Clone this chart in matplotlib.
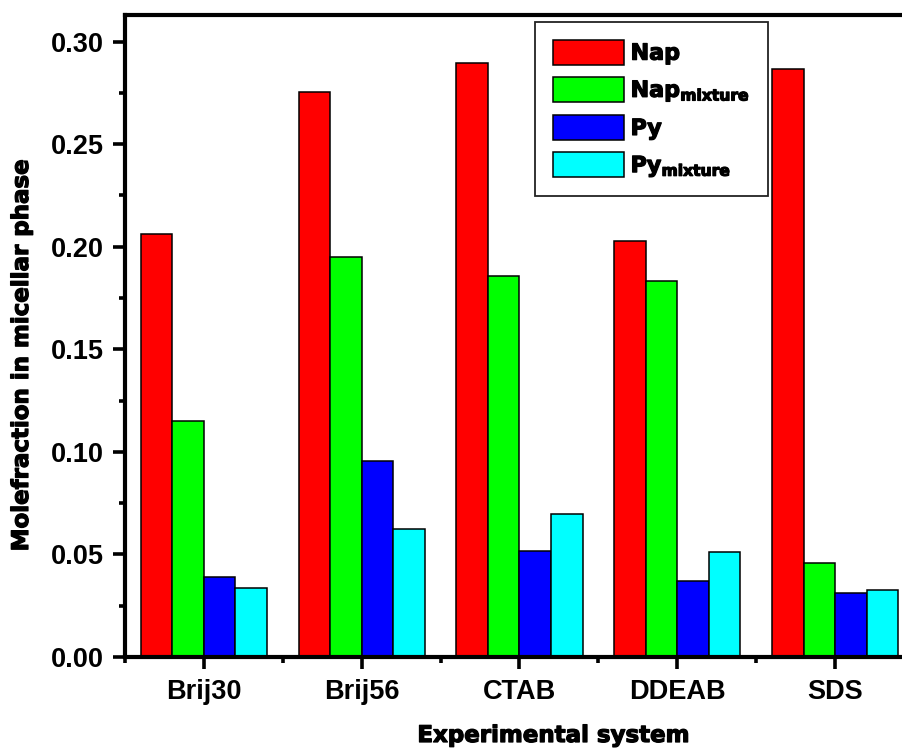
import matplotlib
matplotlib.use("Agg")
import matplotlib.pyplot as plt
import matplotlib.patheffects as pe
import numpy as np
from matplotlib import font_manager
from matplotlib.ticker import MultipleLocator, FixedLocator

# Mole fraction in the micellar phase for each surfactant system
systems = ['Brij30', 'Brij56', 'CTAB', 'DDEAB', 'SDS']
nap = [0.206, 0.2753, 0.2895, 0.2027, 0.2868]
nap_mixture = [0.1152, 0.1949, 0.1857, 0.1833, 0.0457]
py = [0.0390, 0.0955, 0.0518, 0.0372, 0.0313]
py_mixture = [0.0336, 0.0625, 0.0698, 0.0510, 0.0325]

series = [nap, nap_mixture, py, py_mixture]
labels = ['Nap', r'Nap$_{\mathbf{mixture}}$', 'Py', r'Py$_{\mathbf{mixture}}$']
colors = ['#FF0000', '#00FF00', '#0000FF', '#00FFFF']


def bold_sans(size):
    """Regular-width Liberation Sans Bold (not the Narrow variant)."""
    for f in font_manager.fontManager.ttflist:
        if f.name == 'Liberation Sans' and f.weight in (700, 'bold') \
                and 'Narrow' not in f.fname and f.style == 'normal':
            return font_manager.FontProperties(fname=f.fname, size=size)
    return font_manager.FontProperties(family='DejaVu Sans', weight='bold', size=size)


plt.rcParams['mathtext.fontset'] = 'custom'
plt.rcParams['mathtext.rm'] = 'DejaVu Sans:bold'
plt.rcParams['mathtext.bf'] = 'DejaVu Sans:bold'

heavy = [pe.withStroke(linewidth=0.9, foreground='black')]

fig = plt.figure(figsize=(9.03, 7.49), dpi=100)
ax = fig.add_axes([125 / 903, 1 - 657 / 749, (914 - 125) / 903, (657 - 15) / 749])

x = np.arange(1, len(systems) + 1)
width = 0.2
for i, (vals, lab, col) in enumerate(zip(series, labels, colors)):
    ax.bar(x + (i - 1.5) * width, vals, width, color=col, edgecolor='black',
           linewidth=1.1, label=lab, zorder=2)

ax.set_xlim(0.5, 5.5)
ax.set_ylim(0, 0.313)
ax.set_xticks(x)
ax.set_xticklabels(systems)
ax.xaxis.set_minor_locator(FixedLocator(np.arange(0.5, 6.0, 1.0)))
ax.set_yticks(np.arange(0, 0.31, 0.05))
ax.set_yticklabels([f'{v:.2f}' for v in np.arange(0, 0.31, 0.05)])
ax.yaxis.set_minor_locator(MultipleLocator(0.025))

for s in ax.spines.values():
    s.set_linewidth(3.0)
ax.tick_params(which='major', direction='out', length=8.5, width=2.6, pad=7)
ax.tick_params(which='minor', direction='out', length=4.5, width=2.6)
tick_fp = bold_sans(19.5)
for t in ax.get_xticklabels() + ax.get_yticklabels():
    t.set_fontproperties(tick_fp)

fig.text(553 / 903, 1 - 742 / 749, 'Experimental system', ha='center', va='baseline',
         fontsize=16.5, fontweight='bold', family='DejaVu Sans', path_effects=heavy)
fig.text(28 / 903, 1 - 356 / 749, 'Molefraction in micellar phase', rotation=90,
         rotation_mode='anchor', ha='center', va='baseline',
         fontsize=16.5, fontweight='bold', family='DejaVu Sans', path_effects=heavy)

leg = ax.legend(loc='upper left', bbox_to_anchor=(535 / 903, 1 - 22 / 749),
                bbox_transform=fig.transFigure, borderaxespad=0,
                prop={'family': 'DejaVu Sans', 'weight': 'bold', 'size': 16},
                handlelength=3.2, handleheight=1.35, labelspacing=0.55,
                handletextpad=0.3, borderpad=0.8, fancybox=False, framealpha=1)
leg.get_frame().set_edgecolor('#222222')
leg.get_frame().set_linewidth(1.3)
for t in leg.get_texts():
    t.set_path_effects(heavy)

fig.savefig('out.png', dpi=100)
